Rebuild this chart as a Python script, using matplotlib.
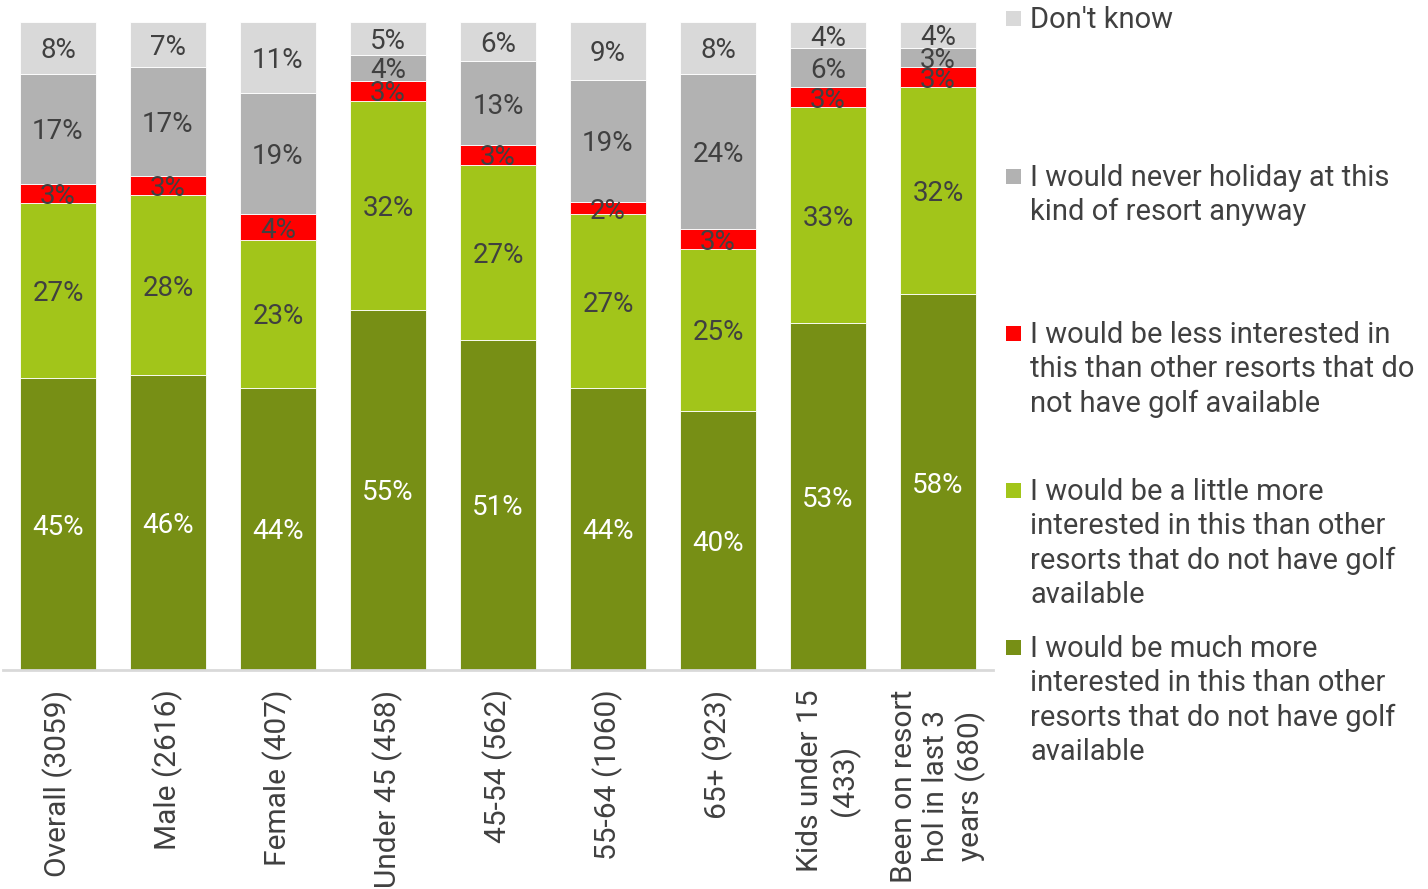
import numpy as np
import matplotlib.pyplot as plt
from matplotlib.patches import Rectangle

plt.rcParams['font.family'] = ['Roboto', 'DejaVu Sans']

# groups along the x axis
groups = ['Overall (3059)', 'Male (2616)', 'Female (407)', 'Under 45 (458)',
          '45-54 (562)', '55-64 (1060)', '65+ (923)', 'Kids under 15\n(433)',
          'Been on resort\nhol in last 3\nyears (680)']

# answer shares in %, stacked bottom to top
much_more = [45, 46, 44, 55, 51, 44, 40, 53, 58]
little_more = [27, 28, 23, 32, 27, 27, 25, 33, 32]
less_interested = [3, 3, 4, 3, 3, 2, 3, 3, 3]
never = [17, 17, 19, 4, 13, 19, 24, 6, 3]
dont_know = [8, 7, 11, 5, 6, 9, 8, 4, 4]

series_names = ['I would be much more\ninterested in this than other\nresorts that do not have golf\navailable',
                'I would be a little more\ninterested in this than other\nresorts that do not have golf\navailable',
                'I would be less interested in\nthis than other resorts that do\nnot have golf available',
                'I would never holiday at this\nkind of resort anyway',
                "Don't know"]
colors = ['#778F15', '#A2C51A', '#FF0000', '#B2B2B2', '#D9D9D9']
text_colors = ['white', '#404040', '#404040', '#404040', '#404040']

data = np.array([much_more, little_more, less_interested, never, dont_know], dtype=float)
shares = data / data.sum(axis=0) * 100  # 100% stacked

fig = plt.figure(figsize=(14.28, 8.89), dpi=100)
ax = fig.add_axes([3 / 1428, 1 - 670 / 889, 990 / 1428, 648 / 889])

x = np.arange(len(groups))
bottom = np.zeros(len(groups))
for i in range(5):
    bars = ax.bar(x, shares[i], 0.69, bottom=bottom, color=colors[i],
                  edgecolor='white', linewidth=0.6, zorder=2)
    for j, rect in enumerate(bars):
        ax.text(rect.get_x() + rect.get_width() / 2, bottom[j] + shares[i][j] / 2,
                '%d%%' % data[i][j], ha='center', va='center_baseline',
                fontsize=20, color=text_colors[i], zorder=3)
    bottom += shares[i]

ax.set_xlim(-0.5, len(groups) - 0.5)
ax.set_ylim(0, 100)
ax.set_yticks([])
ax.set_xticks(x)
ax.set_xticklabels(groups, rotation=90, fontsize=21.5, color='#404040',
                   multialignment='center', linespacing=1.2)
ax.tick_params(axis='x', length=0, pad=14)
for side in ['top', 'right', 'left']:
    ax.spines[side].set_visible(False)
ax.spines['bottom'].set_color('#D9D9D9')
ax.spines['bottom'].set_linewidth(2)

# legend, top entry first
legend_tops = [18, 176, 333, 490, 647]
for k, idx in enumerate([4, 3, 2, 1, 0]):
    ytop = legend_tops[k]
    fig.patches.append(Rectangle((1006 / 1428, 1 - (ytop + 8) / 889), 15 / 1428, 15 / 889,
                                 transform=fig.transFigure, facecolor=colors[idx],
                                 edgecolor='none'))
    fig.text(1030 / 1428, 1 - (ytop - 12) / 889, series_names[idx], ha='left', va='top',
             fontsize=21, color='#404040', linespacing=1.28)

fig.savefig('out.png', dpi=100)
